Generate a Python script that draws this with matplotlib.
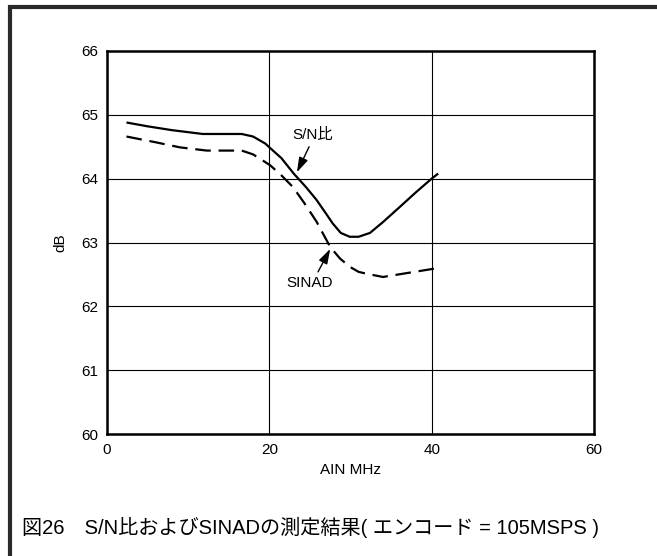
import matplotlib
matplotlib.use("Agg")
import matplotlib.pyplot as plt
from matplotlib.patches import Rectangle

plt.rcParams['font.family'] = ['Liberation Sans', 'Noto Sans CJK JP', 'DejaVu Sans']

# S/N ratio (solid) and SINAD (dashed) versus input frequency
snr_freq = [2.4, 5, 8, 11.8, 14, 16.6, 18, 19.5, 20.1, 21.5, 23, 24.5, 25.8, 27,
            27.8, 28.8, 29.9, 31, 32.4, 34, 36.1, 38, 40, 40.8]
snr_db = [64.88, 64.82, 64.76, 64.70, 64.70, 64.70, 64.66, 64.55, 64.48, 64.32,
          64.08, 63.87, 63.67, 63.45, 63.30, 63.15, 63.09, 63.09, 63.15, 63.32,
          63.56, 63.78, 64.00, 64.08]

sinad_freq = [2.4, 6, 9, 12.3, 16.6, 18, 19, 20.1, 21.5, 22.9, 24.3, 25.8, 27.5,
              28.7, 29.9, 31, 32, 34, 36.9, 40.8]
sinad_db = [64.66, 64.57, 64.49, 64.44, 64.44, 64.38, 64.30, 64.21, 64.05, 63.87,
            63.62, 63.33, 62.93, 62.75, 62.62, 62.54, 62.51, 62.46, 62.52, 62.60]

x_ticks = [0, 20, 40, 60]
y_ticks = [60, 61, 62, 63, 64, 65, 66]

fig = plt.figure(figsize=(6.57, 5.56), dpi=100)

# outer frame of the figure (open to the right and bottom)
fig.patches.append(Rectangle((10 / 657, -0.1), 1.2, 1.1 - 7 / 556,
                             transform=fig.transFigure, fill=False,
                             edgecolor='#2a2a2a', linewidth=3.0))

ax = fig.add_axes([107 / 657, 1 - 434 / 556, 487 / 657, 383 / 556])
ax.plot(snr_freq, snr_db, color='black', lw=1.6, solid_capstyle='butt')
ax.plot(sinad_freq, sinad_db, color='black', lw=1.6, linestyle=(0, (7, 3.5)))

ax.set_xlim(0, 60)
ax.set_ylim(60, 66)
ax.set_xticks(x_ticks)
ax.set_yticks(y_ticks)
ax.tick_params(length=0, labelsize=11, pad=6.5)
ax.grid(True, color='black', lw=0.8)
for s in ax.spines.values():
    s.set_linewidth(1.8)

ax.set_xlabel('AIN MHz', fontsize=11, labelpad=4)
ax.set_ylabel('dB', fontsize=11, labelpad=10)

arrow = dict(arrowstyle='-|>,head_length=0.9,head_width=0.28', color='black', lw=1.0,
             shrinkA=0, shrinkB=0)
ax.text(25.3, 64.68, 'S/N比', fontsize=11, ha='center', va='center')
ax.annotate('', xy=(23.4, 64.1), xytext=(24.9, 64.5), arrowprops=arrow)
ax.annotate('', xy=(27.5, 62.9), xytext=(26.0, 62.54), arrowprops=arrow)
ax.text(25.0, 62.37, 'SINAD', fontsize=11, ha='center', va='center')

fig.text(22 / 657, 1 - 527 / 556, '図26　S/N比およびSINADの測定結果( エンコード = 105MSPS )',
         fontsize=14.5, ha='left', va='center')

fig.savefig('out.png', dpi=100)
